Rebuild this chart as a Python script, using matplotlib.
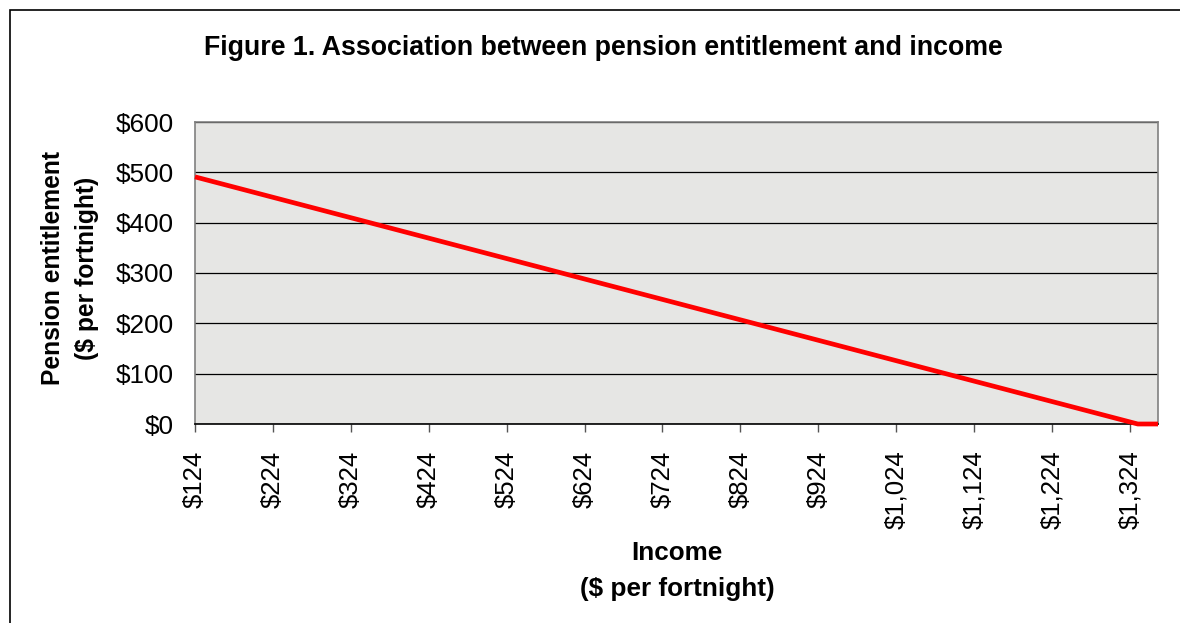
import matplotlib.pyplot as plt
from matplotlib.patches import Rectangle

plt.rcParams['font.family'] = ['Liberation Sans', 'DejaVu Sans']

# data
income = [124, 1334, 1360]
pension = [491, 0, 0]
x_ticks = [124, 224, 324, 424, 524, 624, 724, 824, 924, 1024, 1124, 1224, 1324]
y_ticks = [0, 100, 200, 300, 400, 500, 600]

fig = plt.figure(figsize=(11.8, 6.23), dpi=100)
fig.patches.append(Rectangle((10 / 1180, -0.1), 1.2, 1 - 10 / 623 + 0.1,
                             transform=fig.transFigure, fill=False,
                             edgecolor='black', linewidth=1.2))

ax = fig.add_axes([195 / 1180, 1 - 424 / 623, (1158 - 195) / 1180, (424 - 122) / 623])
ax.set_facecolor('#e6e6e4')

ax.plot(income, pension, color='#ff0000', linewidth=3.4, solid_capstyle='butt', zorder=3, clip_on=False)

ax.set_xlim(124, 1360)
ax.set_ylim(0, 600)
ax.set_yticks(y_ticks)
ax.set_yticklabels([f'${v}' for v in y_ticks], fontsize=18.8)
ax.set_xticks(x_ticks)
ax.set_xticklabels([f'${v:,}' for v in x_ticks], fontsize=18.5, rotation=90)
ax.yaxis.grid(True, color='black', linewidth=0.9)
ax.set_axisbelow(True)

for s in ['left', 'top', 'right']:
    ax.spines[s].set_color('#808080')
    ax.spines[s].set_linewidth(1.2)
ax.spines['bottom'].set_color('black')
ax.spines['bottom'].set_linewidth(1.2)
ax.tick_params(axis='x', length=6, width=1, color='#555555', pad=13)
ax.tick_params(axis='y', length=0, pad=15)

fig.text(603 / 1180, 1 - 48 / 623, 'Figure 1. Association between pension entitlement and income',
         ha='center', va='center', fontsize=19.3, fontweight='bold')
fig.text(677 / 1180, 1 - 571 / 623, 'Income\n($ per fortnight)', ha='center', va='center',
         fontsize=18.8, fontweight='bold', linespacing=1.65)
fig.text(70 / 1180, 1 - 268 / 623, 'Pension entitlement\n($ per fortnight)', ha='center', va='center',
         fontsize=17.7, fontweight='bold', rotation=90, linespacing=1.54)

fig.savefig('out.png', dpi=100)
